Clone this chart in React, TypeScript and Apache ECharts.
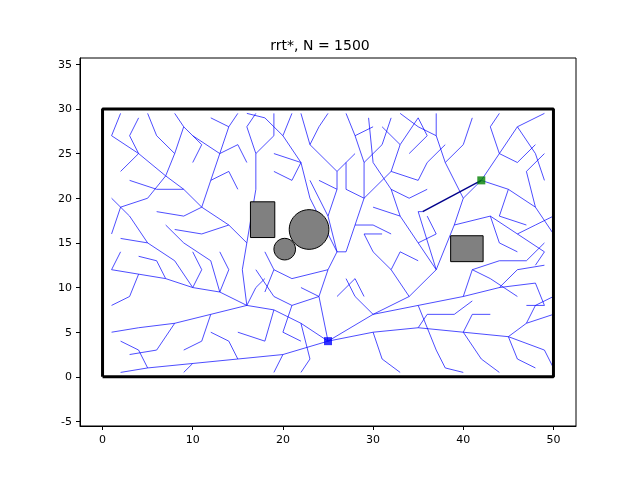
import React, { useEffect, useRef } from 'react'
import * as echarts from 'echarts'

const title = 'rrt*, N = 1500'
const xRange = [-2.5, 52.5]
const yRange = [-5.5, 35.7]
const xTickValues = [0, 10, 20, 30, 40, 50]
const yTickValues = [-5, 0, 5, 10, 15, 20, 25, 30, 35]

const start = [25, 4]
const goal = [42, 22]
const boundary = [[0, 0], [50, 0], [50, 30], [0, 30], [0, 0]]
const goalPath = [[35.5, 18.5], [42, 22]]

const rects = [[16.4, 15.6, 19.1, 19.6], [38.6, 12.9, 42.2, 15.8]]
const circles = [[22.9, 16.5, 2.2], [20.2, 14.3, 1.2]]

const branches: number[][][] = [
  [[25,4],[22,6],[19,7.5],[16,8],[13,9.5],[10,10],[7,11],[4,11.5],[1,12]],
  [[16,8],[15.5,12],[16,15],[14,17],[11,19],[9,21],[7,22.5],[4,25],[1,27]],
  [[11,19],[12,22],[13,25],[14,28],[15,29.5]],
  [[7,22.5],[5,20],[2,19]],
  [[7,22.5],[8,25],[9,28],[8,29.5]],
  [[25,4],[24,9],[25,12],[26,14],[27,14],[28,17],[29,20],[29,24],[28,27],[27,29.5]],
  [[26,14],[23,20],[22,24],[20,27],[18,29]],
  [[26,14],[25,18],[26,21],[26,23],[23,26],[22,29.5]],
  [[29,20],[32,23],[33,26],[35,29]],
  [[25,4],[30,7],[34,9],[37,12],[39,17],[40,20],[42,22],[44,25],[46,28],[49,29.5]],
  [[25,4],[30,5],[35,5.5],[40,5],[45,4.5],[49,3]],
  [[25,4],[20,2.5],[15,2],[10,1.5],[5,1],[2,0.5]],
  [[30,7],[35,8],[40,9],[44,10],[48,10.5]],
  [[37,12],[35,15],[33,18],[32,21],[30,24],[29.5,29]],
  [[40,20],[38,24],[37,27],[37,29.5]],
  [[42,22],[45,21],[48,19],[50,16]],
  [[39,17],[43,18],[46,16],[49,14]],
  [[44,10],[46,12],[49,12.5]],
  [[16,8],[12,7],[8,6],[4,5.5],[1,5]],
  [[8,6],[6,3],[3,2.5]],
  [[10,10],[8,13],[5,15],[2,15.5]],
  [[13,9.5],[12,13],[9,15],[7,17]],
  [[14,17],[11,16],[8,16.5]],
  [[25,12],[21,11],[19,12],[18,14]],
  [[16,15],[17,21],[17,25],[16,28]],
  [[20,27],[21,29.5]],
  [[14,28],[12,29]],
  [[4,25],[2,23]],
  [[1,27],[2,29.5]],
  [[22,6],[23,2],[22,0.5]],
  [[30,5],[31,2],[33,0.5]],
  [[40,5],[42,2],[44,0.5]],
  [[45,4.5],[47,6],[50,7]],
  [[35,8],[37,3],[38,1]],
  [[34,9],[32,12],[30,14]],
  [[32,23],[35,22],[36,24],[38,26]],
  [[33,26],[31,28]],
  [[46,28],[48,25],[49,22]],
  [[44,25],[46,24],[48,26]],
  [[45,21],[44,18],[47,17]],
  [[28,27],[30,28]],
  [[9,28],[11,26],[10,24]],
  [[16,8],[17,10],[18,11]],
  [[24,9],[21,8],[19,9],[17,12]],
  [[12,7],[11,4],[9,3]],
  [[35,5.5],[36,7],[39,7]],
  [[40,9],[41,12],[44,13]],
  [[28,17],[30,17],[32,16]],
  [[5,15],[3,18],[1,20]],
  [[2,19],[1,16]],
  [[37,12],[35,18.5],[35.5,18.5]],
  [[19,7.5],[18,4],[15,5]],
  [[26,23],[28,25]],
  [[22,24],[19,25]],
  [[13,25],[10,27]],
  [[47,6],[48,8],[50,9]],
  [[48,19],[47,23],[49,25]],
  [[33,18],[30,19]],
  [[4,11.5],[3,9],[1,8]],
  [[9,21],[6,21],[3,22]],
  [[20,2.5],[19,0.5]],
  [[15,2],[14,4],[12,5]],
  [[10,1.5],[9,0.5]],
  [[5,1],[4,3],[2,4]],
  [[13,9.5],[14,12],[13,14]],
  [[7,11],[6,13],[4,13.5]],
  [[10,10],[11,12],[10,14]],
  [[1,12],[2,14]],
  [[11,19],[9,18],[6,18.5]],
  [[12,22],[14,23],[15,21]],
  [[4,25],[3,27],[4,29]],
  [[8,25],[6,27],[5,29.5]],
  [[13,25],[15,26],[16,24]],
  [[17,25],[19,27],[19,29.5]],
  [[23,26],[24,28],[25,29.5]],
  [[29,24],[31,26],[32,29]],
  [[35,29],[36,27],[34,25]],
  [[38,24],[40,26],[41,29]],
  [[44,25],[43,28],[44,29.5]],
  [[46,16],[48,17],[50,18]],
  [[49,14],[48,12.5]],
  [[43,18],[44,15],[46,14]],
  [[41,12],[43,11],[46,9]],
  [[44,13],[47,13],[49,15]],
  [[48,10.5],[49,8],[47,8]],
  [[45,4.5],[46,2],[48,1]],
  [[49,3],[50,1]],
  [[40,5],[41,7],[43,7]],
  [[38,1],[40,0.5]],
  [[30,7],[28,9],[27,11]],
  [[32,12],[33,14],[35,13]],
  [[30,14],[29,16],[31,16]],
  [[35,15],[37,16],[36,18]],
  [[32,21],[34,20],[36,21]],
  [[29,20],[27,21],[27,24]],
  [[25,18],[23,22]],
  [[22,24],[21,22],[19,23]],
  [[16,28],[17,29.5]],
  [[18,29],[16,29.5]],
  [[19,12],[18,9.5]],
  [[21,8],[20,5],[22,4]],
  [[26,9],[28,11],[29,9]],
  [[24,9],[22,10]],
  [[39,7],[41,8.5]],
  [[37,27],[35,28],[33,29.5]],
  [[26,21],[24,22]],
]

export default function App() {
  const ref = useRef<HTMLDivElement | null>(null)
  useEffect(() => {
    if (!ref.current) return
    const chart = echarts.init(ref.current, null, { renderer: 'svg' })
    const labelFont = { color: '#000', fontFamily: 'DejaVu Sans', fontSize: 11 }
    chart.setOption({
      animation: false,
      title: { text: title, left: 'center', top: 33, textStyle: { fontFamily: 'DejaVu Sans', fontSize: 14, fontWeight: 'normal', color: '#000' } },
      grid: { left: 80, right: 64, top: 58, bottom: 54, show: true, borderColor: '#000', borderWidth: 1 },
      xAxis: {
        type: 'value', min: xRange[0], max: xRange[1], splitLine: { show: false },
        axisLine: { onZero: false, lineStyle: { color: '#000' } },
        axisTick: { length: 4, lineStyle: { color: '#000' }, customValues: xTickValues },
        axisLabel: { ...labelFont, customValues: xTickValues },
      },
      yAxis: {
        type: 'value', min: yRange[0], max: yRange[1], splitLine: { show: false },
        axisLine: { onZero: false, lineStyle: { color: '#000' } },
        axisTick: { length: 4, lineStyle: { color: '#000' }, customValues: yTickValues },
        axisLabel: { ...labelFont, customValues: yTickValues },
      },
      series: [
        {
          type: 'lines', coordinateSystem: 'cartesian2d', polyline: true, silent: true,
          lineStyle: { color: '#0000ff', width: 0.7, opacity: 1 },
          data: branches.map(b => ({ coords: b })),
        },
        {
          type: 'lines', coordinateSystem: 'cartesian2d', polyline: true,
          lineStyle: { color: '#00008b', width: 1.5, opacity: 1 },
          data: [{ coords: goalPath }],
        },
        {
          type: 'custom', renderItem: (params: any, api: any) => {
            const i = api.value(0)
            if (i < rects.length) {
              const r = rects[i]
              const p0 = api.coord([r[0], r[3]]), p1 = api.coord([r[2], r[1]])
              return { type: 'rect', shape: { x: p0[0], y: p0[1], width: p1[0] - p0[0], height: p1[1] - p0[1] },
                style: { fill: '#808080', stroke: '#000', lineWidth: 1 } }
            }
            const c = circles[i - rects.length]
            const p = api.coord([c[0], c[1]])
            const s = api.size([c[2], c[2]])
            return { type: 'circle', shape: { cx: p[0], cy: p[1], r: s[0] },
              style: { fill: '#808080', stroke: '#000', lineWidth: 1 } }
          },
          data: [...rects, ...circles].map((_, i) => [i]),
        },
        {
          type: 'line', data: boundary, symbol: 'none',
          lineStyle: { color: '#000', width: 3 },
        },
        { type: 'scatter', data: [start], symbol: 'rect', symbolSize: 8, itemStyle: { color: '#0000ff' } },
        { type: 'scatter', data: [goal], symbol: 'rect', symbolSize: 8, itemStyle: { color: '#008000' } },
      ],
    } as any)
    return () => chart.dispose()
  }, [])
  return <div ref={ref} style={{ position: 'fixed', left: 0, top: 0, width: 640, height: 480 }} />
}
